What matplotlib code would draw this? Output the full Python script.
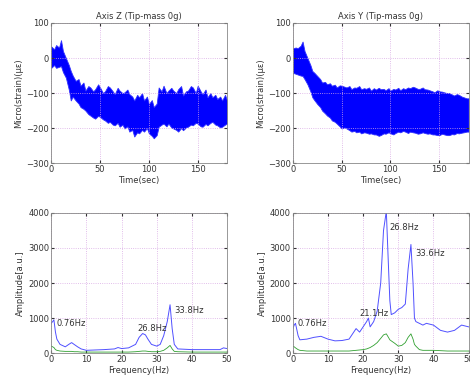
import matplotlib
matplotlib.use("Agg")
import matplotlib.pyplot as plt

# time series envelopes, t in sec, values in micro-strain
t_env = [0, 3, 5, 8, 10, 12, 15, 18, 20, 22, 25, 28, 30, 33, 35, 38, 40, 43, 45, 48, 50, 53,
         55, 58, 60, 63, 65, 68, 70, 73, 75, 78, 80, 83, 85, 88, 90, 93, 95, 98, 100, 103, 105,
         108, 110, 113, 115, 118, 120, 123, 125, 128, 130, 133, 135, 138, 140, 143, 145, 148,
         150, 153, 155, 158, 160, 163, 165, 168, 170, 173, 175, 178, 180]
z_upper = [33, 25, 37, 30, 51, 20, 0, -20, -37, -50, -65, -60, -79, -70, -93, -80, -84, -95,
           -89, -75, -84, -100, -95, -80, -84, -95, -103, -85, -93, -100, -98, -90, -103, -110,
           -121, -105, -112, -100, -121, -110, -131, -120, -140, -130, -84, -95, -79, -100,
           -93, -85, -93, -100, -89, -80, -107, -95, -93, -80, -84, -100, -79, -95, -103, -90,
           -112, -100, -112, -105, -117, -110, -121, -105, -121]
z_lower = [-28, -20, -28, -25, -23, -40, -56, -90, -121, -110, -121, -130, -140, -145, -150,
           -160, -164, -170, -173, -165, -168, -175, -178, -185, -182, -190, -192, -185, -196,
           -190, -201, -195, -210, -205, -224, -212, -215, -205, -210, -200, -215, -222, -229,
           -220, -196, -190, -187, -195, -187, -198, -201, -205, -210, -200, -206, -198, -196,
           -190, -192, -185, -187, -195, -196, -188, -192, -185, -182, -190, -192, -198, -196,
           -190, -187]
y_upper = [28, 30, 28, 35, 47, 20, 0, -20, -37, -42, -51, -60, -70, -68, -75, -72, -79, -76,
           -84, -78, -79, -82, -84, -80, -89, -84, -85, -80, -89, -86, -88, -84, -93, -86,
           -90, -85, -89, -88, -92, -86, -93, -88, -90, -85, -92, -86, -89, -84, -86, -82,
           -84, -88, -88, -84, -89, -90, -92, -95, -98, -92, -95, -96, -98, -100, -100, -104,
           -107, -103, -105, -110, -112, -115, -115]
y_lower = [-42, -45, -47, -50, -51, -60, -75, -95, -112, -120, -131, -140, -150, -158, -164,
           -170, -178, -182, -187, -195, -201, -198, -201, -206, -210, -208, -212, -210, -215,
           -212, -213, -216, -215, -218, -218, -222, -220, -215, -216, -212, -215, -218, -214,
           -210, -212, -208, -210, -214, -210, -212, -213, -216, -215, -212, -214, -216, -215,
           -218, -218, -220, -220, -216, -218, -220, -220, -217, -218, -214, -215, -213, -212,
           -210, -210]

# spectra, f in Hz
f_z = [0, 0.4, 0.76, 1.2, 1.6, 2.5, 4, 5, 5.8, 6.5, 7.5, 8.5, 10, 15, 18, 19, 20, 22, 24, 25,
       26, 26.8, 27.5, 28.5, 30, 31, 32, 33, 33.8, 34.4, 35, 36, 40, 45, 48, 49, 50]
amp_z = [850, 900, 950, 600, 400, 250, 180, 250, 300, 250, 180, 120, 80, 100, 120, 160, 130,
         150, 250, 450, 560, 520, 400, 250, 200, 250, 500, 900, 1380, 700, 250, 120, 100, 100,
         100, 150, 130]
amp_z2 = [200, 180, 160, 100, 80, 60, 50, 50, 50, 40, 40, 30, 30, 30, 30, 30, 30, 30, 40, 50,
          60, 60, 50, 40, 40, 50, 80, 150, 220, 120, 50, 40, 30, 30, 30, 30, 30]

f_y = [0, 0.4, 0.76, 1.5, 2, 4, 6, 8, 10, 12, 14, 16, 17, 18, 19, 20, 21, 21.5, 22, 23, 24,
       25, 25.8, 26.6, 27.2, 27.6, 28, 29, 30, 31, 32, 32.8, 33.6, 34.2, 34.6, 35, 36, 37, 38,
       40, 42, 44, 46, 48, 50]
amp_y = [700, 800, 850, 500, 380, 400, 450, 480, 400, 350, 360, 400, 550, 700, 600, 750, 900,
         1000, 750, 900, 1200, 2000, 3500, 4050, 2500, 1500, 1100, 1150, 1250, 1300, 1400,
         2400, 3100, 2000, 1000, 900, 850, 800, 850, 800, 650, 600, 650, 800, 750]
amp_y2 = [200, 180, 150, 100, 80, 60, 60, 60, 60, 60, 60, 60, 70, 80, 90, 100, 120, 140, 160,
          220, 300, 420, 520, 550, 450, 380, 350, 280, 200, 220, 300, 450, 550, 400, 250, 200,
          100, 80, 80, 80, 70, 60, 60, 60, 60]

plt.rcParams["font.size"] = 6
plt.rcParams["font.family"] = "DejaVu Sans"

fig = plt.figure(figsize=(4.7, 3.83), dpi=100)
ax1 = fig.add_axes([0.109, 0.574, 0.374, 0.366])
ax2 = fig.add_axes([0.623, 0.574, 0.374, 0.366])
ax3 = fig.add_axes([0.109, 0.078, 0.374, 0.366])
ax4 = fig.add_axes([0.623, 0.078, 0.374, 0.366])

for ax, up, lo, title in [(ax1, z_upper, z_lower, "Axis Z (Tip-mass 0g)"),
                          (ax2, y_upper, y_lower, "Axis Y (Tip-mass 0g)")]:
    ax.fill_between(t_env, lo, up, color="#0000ff", lw=0.6, edgecolor="#3030ff")
    ax.set_xlim(0, 180)
    ax.set_ylim(-300, 100)
    ax.set_xticks([0, 50, 100, 150])
    ax.set_yticks([-300, -200, -100, 0, 100])
    ax.set_title(title, fontsize=6, pad=3, color="#333333")
    ax.set_xlabel("Time(sec)", labelpad=1, color="#333333")
    ax.set_ylabel("Micro(strain)(\u03bc\u03b5)", labelpad=2, color="#333333")

for ax, f, a1, a2 in [(ax3, f_z, amp_z, amp_z2), (ax4, f_y, amp_y, amp_y2)]:
    ax.plot(f, a1, color="#5050ff", lw=0.7)
    ax.plot(f, a2, color="#30a030", lw=0.6)
    ax.set_xlim(0, 50)
    ax.set_ylim(0, 4000)
    ax.set_xticks([0, 10, 20, 30, 40, 50])
    ax.set_yticks([0, 1000, 2000, 3000, 4000])
    ax.set_xlabel("Frequency(Hz)", labelpad=1, color="#333333")
    ax.set_ylabel("Amplitude[a.u.]", labelpad=2, color="#333333")

ax3.text(1.5, 780, "0.76Hz", fontsize=6, color="#333333")
ax3.text(24.5, 620, "26.8Hz", fontsize=6, color="#333333")
ax3.text(35.0, 1150, "33.8Hz", fontsize=6, color="#333333")
ax4.text(1.2, 780, "0.76Hz", fontsize=6, color="#333333")
ax4.text(18.8, 1050, "21.1Hz", fontsize=6, color="#333333")
ax4.text(27.5, 3500, "26.8Hz", fontsize=6, color="#333333")
ax4.text(34.8, 2780, "33.6Hz", fontsize=6, color="#333333")

for ax in [ax1, ax2, ax3, ax4]:
    ax.grid(True, linestyle=":", color="#d8a8e4", lw=0.6)
    ax.tick_params(direction="in", length=2, pad=1.5, colors="#333333", top=True, right=True)
    for s in ax.spines.values():
        s.set_color("#888888")
        s.set_linewidth(0.6)

fig.savefig("out.png", dpi=100)
